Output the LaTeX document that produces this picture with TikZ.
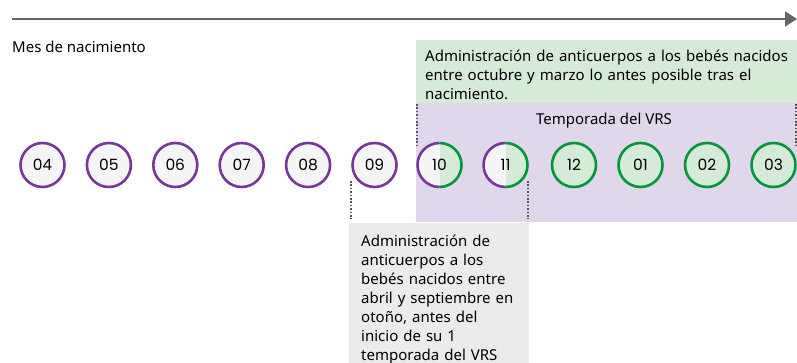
\documentclass[tikz,border=0pt]{standalone}
\usepackage{fontspec}
\setmainfont{Noto Sans}
\newfontfamily\numfont{Poppins}
\usetikzlibrary{arrows.meta}
\definecolor{vpurple}{HTML}{763796}
\definecolor{vgreen}{HTML}{009639}
\definecolor{gfill}{HTML}{D6EAD8}
\definecolor{pfill}{HTML}{E0D7EC}
\definecolor{cgray}{HTML}{F5F5F5}
\definecolor{boxgray}{HTML}{EBEBEB}
\definecolor{linegray}{HTML}{666666}
\definecolor{dotgray}{HTML}{555555}
\begin{document}
\begin{tikzpicture}[x=1pt,y=-1pt,
  month/.style={circle, minimum size=44pt, inner sep=0pt, outer sep=0pt, line width=2.6pt, font=\numfont\fontsize{15.5}{18}\selectfont},
  pre/.style={month, draw=vpurple, fill=cgray},
  post/.style={month, draw=vgreen, fill=gfill},
  half/.style={month, path picture={
      \fill[cgray] (path picture bounding box.north) rectangle (path picture bounding box.south west);
      \fill[gfill] (path picture bounding box.north) rectangle (path picture bounding box.south east);}},
  dots/.style={draw=dotgray, line width=2pt, dash pattern=on 1.7pt off 1.7pt},
  txt/.style={inner sep=0pt, align=left, font=\fontsize{15}{19.1}\selectfont}
]
\useasboundingbox (0,0) rectangle (797,363);
% background boxes
\fill[gfill] (416,40) rectangle (797,103);
\fill[pfill] (416,103) rectangle (797,222);
\fill[boxgray] (349,223) rectangle (529,363);
% timeline arrow
\coordinate (tl0) at (12,19);
\coordinate (tl1) at (797,19);
\draw[linegray, line width=2pt, -{Triangle[length=12pt,width=15pt]}] (tl0) -- (tl1);
% texts
\node[txt, anchor=base west] (mes) at (12,53) {Mes de nacimiento};
\node[txt, anchor=north west, text width=372pt] (gtext) at (425,47.7)
  {\strut Administración de anticuerpos a los bebés nacidos\\entre octubre y marzo lo antes posible tras el\\nacimiento.};
\node[txt, anchor=base] (vrs) at (604,125) {Temporada del VRS};
\node[txt, anchor=north west, text width=168pt] (btext) at (361,232.5)
  {\strut Administración de\\anticuerpos a los\\bebés nacidos entre\\abril y septiembre en\\otoño, antes del\\inicio de su 1\\temporada del VRS};
% months
\node[pre] (m04) at (42.5,165) {04};
\node[pre] (m05) at (108.9,165) {05};
\node[pre] (m06) at (175.3,165) {06};
\node[pre] (m07) at (241.7,165) {07};
\node[pre] (m08) at (308.1,165) {08};
\node[pre] (m09) at (374.5,165) {09};
\node[half] (m10) at (439.5,165) {10};
\node[half] (m11) at (505.5,165) {11};
\node[post] (m12) at (574,165) {12};
\node[post] (m01) at (640.5,165) {01};
\node[post] (m02) at (707,165) {02};
\node[post] (m03) at (773.5,165) {03};
\foreach \m in {m10,m11}{
  \draw[vpurple, line width=2.6pt] (\m.center) ++(0,-22) arc (90:270:22pt);
  \draw[vgreen, line width=2.6pt] (\m.center) ++(0,22) arc (-90:90:22pt);
}
% dotted guides
\coordinate (da0) at (416.5,104);
\coordinate (da1) at (416.5,147);
\coordinate (db0) at (795.5,104);
\coordinate (db1) at (795.5,147);
\coordinate (dc0) at (351,181);
\coordinate (dc1) at (351,219);
\coordinate (dd0) at (528,181);
\coordinate (dd1) at (528,219);
\draw[dots] (da0) -- (da1);
\draw[dots] (db0) -- (db1);
\draw[dots] (dc0) -- (dc1);
\draw[dots] (dd0) -- (dd1);
\end{tikzpicture}
\end{document}
